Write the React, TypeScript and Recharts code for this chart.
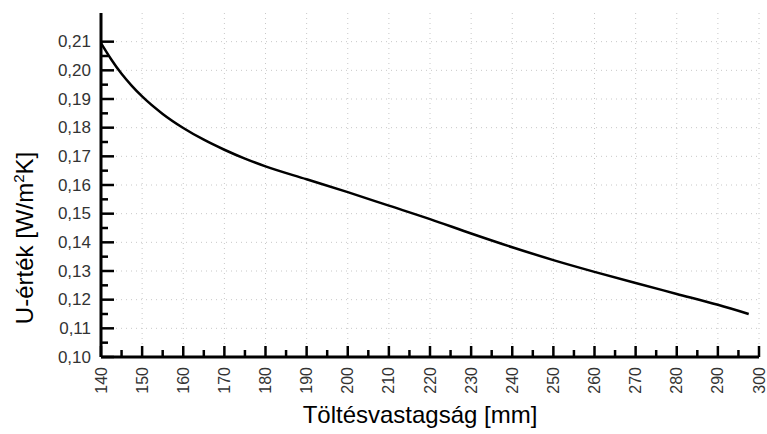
import React from 'react';
import { LineChart, Line, XAxis, YAxis, CartesianGrid, Label } from 'recharts';

const thickness = [140, 142.5, 145, 147.5, 150, 155, 160, 165, 170, 175, 180, 190, 200, 210, 220, 230, 240, 250, 260, 270, 280, 290, 297.5];
const uValue = [0.2095, 0.2038, 0.1988, 0.1946, 0.1909, 0.1848, 0.1799, 0.1758, 0.1723, 0.1692, 0.1665, 0.162, 0.1575, 0.1528, 0.1481, 0.1431, 0.1383, 0.1338, 0.1297, 0.1258, 0.122, 0.1182, 0.115];

const xMajorTicks = [140, 150, 160, 170, 180, 190, 200, 210, 220, 230, 240, 250, 260, 270, 280, 290, 300];
const xMinorTicks = [145, 155, 165, 175, 185, 195, 205, 215, 225, 235, 245, 255, 265, 275, 285, 295];
const yMajorTicks = [0.1, 0.11, 0.12, 0.13, 0.14, 0.15, 0.16, 0.17, 0.18, 0.19, 0.2, 0.21];
const yMinorTicks = [0.105, 0.115, 0.125, 0.135, 0.145, 0.155, 0.165, 0.175, 0.185, 0.195, 0.205];

const xTitle = 'Töltésvastagság [mm]';
const yTitleA = 'U-érték [W/m';
const yTitleSup = '2';
const yTitleB = 'K]';

const data = thickness.map((t, i) => ({ t, u: uValue[i] }));

const FONT = '"Liberation Sans", Arial, sans-serif';

const XTick = (props: any) => {
  const { x, y, payload } = props;
  const major = xMajorTicks.includes(payload.value);
  return (
    <g>
      <line x1={x} x2={x} y1={y} y2={y - (major ? 11 : 7)} stroke="#000" strokeWidth={2.5} />
      {major && (
        <text
          x={x}
          y={y + 10}
          transform={`rotate(-90, ${x}, ${y + 10})`}
          textAnchor="end"
          dominantBaseline="central"
          fontSize={16}
          fontFamily={FONT}
          fill="#333"
        >
          {payload.value}
        </text>
      )}
    </g>
  );
};

const YTick = (props: any) => {
  const { x, y, payload } = props;
  const major = yMajorTicks.includes(payload.value);
  return (
    <g>
      <line x1={x} x2={x + (major ? 13 : 7)} y1={y} y2={y} stroke="#000" strokeWidth={2.5} />
      {major && (
        <text
          x={x - 10}
          y={y}
          textAnchor="end"
          dominantBaseline="central"
          fontSize={17}
          fontFamily={FONT}
          fill="#333"
        >
          {payload.value.toFixed(2).replace('.', ',')}
        </text>
      )}
    </g>
  );
};

const XTitle = (props: any) => {
  const vb = props.viewBox;
  const cx = vb.x + vb.width / 2 - 10;
  return (
    <text x={cx} y={vb.y + 66} textAnchor="middle" fontSize={24} fontFamily={FONT} fill="#000">
      {xTitle}
    </text>
  );
};

const YTitle = (props: any) => {
  const vb = props.viewBox;
  const cx = 33;
  const cy = vb.y + vb.height / 2 + 53;
  return (
    <text
      x={cx}
      y={cy}
      transform={`rotate(-90, ${cx}, ${cy})`}
      textAnchor="middle"
      fontSize={24}
      fontFamily={FONT}
      fill="#000"
    >
      {yTitleA}
      <tspan fontSize={15} dy={-9}>{yTitleSup}</tspan>
      <tspan dy={9}>{yTitleB}</tspan>
    </text>
  );
};

export default function App() {
  return (
    <div style={{ position: 'absolute', left: 0, top: 0, width: 767, height: 434, background: '#fff' }}>
      <LineChart width={767} height={434} data={data} margin={{ top: 13, right: 8, bottom: 0, left: 0 }}>
        <CartesianGrid
          stroke="#c8c8c8"
          strokeDasharray="1 4"
          horizontalValues={yMajorTicks}
          verticalValues={xMajorTicks}
        />
        <XAxis
          dataKey="t"
          type="number"
          domain={[140, 300]}
          ticks={[...xMajorTicks, ...xMinorTicks].sort((a, b) => a - b)}
          interval={0}
          height={77}
          tickSize={0}
          tickMargin={0}
          tickLine={false}
          tick={<XTick />}
          axisLine={{ stroke: '#000', strokeWidth: 3 }}
          allowDataOverflow
        >
          <Label content={XTitle} />
        </XAxis>
        <YAxis
          type="number"
          domain={[0.1, 0.22]}
          ticks={[...yMajorTicks, ...yMinorTicks].sort((a, b) => a - b)}
          interval={0}
          width={101}
          tickSize={0}
          tickMargin={0}
          tickLine={false}
          tick={<YTick />}
          axisLine={{ stroke: '#000', strokeWidth: 3 }}
          allowDataOverflow
        >
          <Label content={YTitle} />
        </YAxis>
        <Line
          dataKey="u"
          type="monotone"
          stroke="#000"
          strokeWidth={2.5}
          dot={false}
          activeDot={false}
          isAnimationActive={false}
        />
      </LineChart>
    </div>
  );
}
